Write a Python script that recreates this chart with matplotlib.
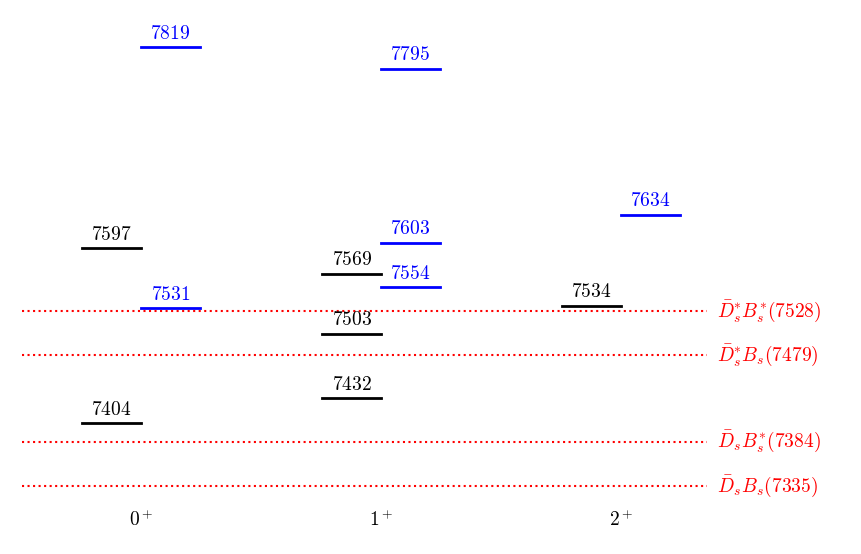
import matplotlib
matplotlib.use("Agg")
import matplotlib.pyplot as plt

plt.rcParams['mathtext.fontset'] = 'cm'

states = ['0^+', '1^+', '2^+']
black_levels = [[7404, 7597], [7432, 7503, 7569], [7534]]
blue_levels = [[7531, 7819], [7554, 7603, 7795], [7634]]
thresholds = [7528, 7479, 7384, 7335]
threshold_labels = [r'$\bar{D}_s^{*}B_s^{*}(7528)$', r'$\bar{D}_s^{*}B_s(7479)$',
                    r'$\bar{D}_sB_s^{*}(7384)$', r'$\bar{D}_sB_s(7335)$']

fig = plt.figure(figsize=(8.61, 5.54), dpi=100)
ax = fig.add_axes([0, 0, 1, 1])
ax.set_xlim(-0.5875, 3.0)
ax.set_ylim(7260, 7871)
ax.axis('off')

w = 0.245
for i, s in enumerate(states):
    for v in black_levels[i]:
        ax.plot([i - w, i], [v, v], color='black', lw=2)
        ax.text(i - w / 2, v + 5, f'${v}$', ha='center', va='bottom', fontsize=14, color='black')
    for v in blue_levels[i]:
        ax.plot([i, i + w], [v, v], color='blue', lw=2)
        ax.text(i + w / 2, v + 5, f'${v}$', ha='center', va='bottom', fontsize=14, color='blue')
    ax.text(i, 7298, f'${s}$', ha='center', va='center', fontsize=14)

for t, lab in zip(thresholds, threshold_labels):
    ax.plot([-0.496, 2.36], [t, t], color='red', ls=':', lw=1.5)
    ax.text(2.4, t, lab, ha='left', va='center', fontsize=14, color='red')

fig.savefig('out.png', dpi=100)
